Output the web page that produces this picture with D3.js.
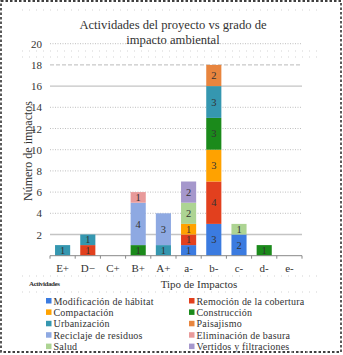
<!DOCTYPE html>
<html><head><meta charset="utf-8">
<script src="https://cdn.jsdelivr.net/npm/d3@7/dist/d3.min.js"></script>
<style>body{margin:0;background:#fff}svg{display:block}</style>
</head><body><svg id="c" width="343" height="355"></svg>
<script>
const categories = ["E+","D−","C+","B+","A+","a-","b-","c-","d-","e-"];
const seriesNames = ["Modificación de hábitat","Remoción de la cobertura","Compactación","Construcción","Urbanización","Paisajismo","Reciclaje de residuos","Eliminación de basura","Salud","Vertidos y filtraciones"];
const modificacion = [0,0,0,0,0,1,3,2,0,0];
const remocion     = [0,1,0,0,0,1,4,0,0,0];
const compactacion = [0,0,0,0,0,1,3,0,0,0];
const construccion = [0,0,0,1,0,0,3,0,1,0];
const urbanizacion = [1,1,0,0,1,0,3,0,0,0];
const paisajismo   = [0,0,0,0,0,0,2,0,0,0];
const reciclaje    = [0,0,0,4,3,0,0,0,0,0];
const eliminacion  = [0,0,0,1,0,0,0,0,0,0];
const salud        = [0,0,0,0,0,2,0,1,0,0];
const vertidos     = [0,0,0,0,0,2,0,0,0,0];
const yTicks = [2,4,6,8,10,12,14,16,18,20];
const colors = ["#3b7be0","#e2401e","#ffa200","#1b8a1b","#3597b0","#e8853e","#8ea9e2","#e89a9a","#add493","#a597cc"];

const FONT = "Liberation Serif";
const allSeries = [modificacion,remocion,compactacion,construccion,urbanizacion,paisajismo,reciclaje,eliminacion,salud,vertidos];
const table = categories.map((c,i)=>{const o={cat:c};seriesNames.forEach((s,j)=>o[s]=allSeries[j][i]);return o;});
const stacked = d3.stack().keys(seriesNames)(table);

const svg = d3.select("#c");
svg.append("rect").attr("x",1).attr("y",1).attr("width",340).attr("height",351)
  .attr("fill","none").attr("stroke","#000").attr("stroke-width",1.3).attr("stroke-dasharray","2.5,2");
const dotted = (x1,y1,x2,y2)=>svg.append("line").attr("x1",x1).attr("y1",y1).attr("x2",x2).attr("y2",y2)
  .attr("stroke","#c8c8c8").attr("stroke-width",0.8).attr("stroke-dasharray","1,6");
dotted(22,10,318,10); dotted(22,51,318,51); dotted(22,57,318,57);
dotted(22,276,318,276); dotted(22,292,318,292); dotted(40,352,318,352);

const x = d3.scaleBand().domain(categories).range([50,302]).paddingInner(0.4).paddingOuter(0.2);
const y = d3.scaleLinear().domain([0,20]).range([255.7,43.7]);

const gridStyle = v => v===2||v===16 ? {c:"#c4c4c4",w:1.4,d:null} : v===18 ? {c:"#bbb",w:1,d:"4,2"} : {c:"#b8b8b8",w:0.9,d:"1,1.5"};
svg.append("g").selectAll("line").data(yTicks).join("line")
  .attr("x1",50).attr("x2",302).attr("y1",d=>y(d)).attr("y2",d=>y(d))
  .attr("stroke",d=>gridStyle(d).c).attr("stroke-width",d=>gridStyle(d).w)
  .attr("stroke-dasharray",d=>gridStyle(d).d);

const ya = svg.append("g").attr("transform","translate(50,0)")
  .call(d3.axisLeft(y).tickValues(yTicks).tickSize(0).tickPadding(8).tickFormat(d3.format("d")));
ya.select(".domain").remove();
ya.attr("font-family",FONT);
ya.selectAll("text").style("font-family",FONT).style("font-size","11px").attr("fill","#333");

const g = svg.append("g");
stacked.forEach((layer,j)=>{
  layer.forEach((d,i)=>{
    const v = d[1]-d[0];
    if(v<=0) return;
    const cat = categories[i];
    g.append("rect").attr("x",x(cat)).attr("width",x.bandwidth())
      .attr("y",y(d[1])).attr("height",y(d[0])-y(d[1])).attr("fill",colors[j]);
    g.append("text").attr("x",x(cat)+x.bandwidth()/2).attr("y",(y(d[0])+y(d[1]))/2+3.6)
      .attr("text-anchor","middle").style("font-family",FONT).style("font-size","10.5px").attr("fill","#333").text(v);
  });
});

const xa = svg.append("g").attr("transform",`translate(0,${y(0)})`)
  .call(d3.axisBottom(x).tickSize(0).tickPadding(9));
xa.attr("font-family",FONT);
xa.select(".domain").attr("stroke","#888").attr("d","M50,0H302");
xa.selectAll("text").style("font-family",FONT).style("font-size","11px").attr("fill","#333");
svg.append("g").selectAll("line").data(d3.range(categories.length+1)).join("line")
  .attr("x1",d=>50+d*252/categories.length).attr("x2",d=>50+d*252/categories.length)
  .attr("y1",y(0)).attr("y2",y(0)+3).attr("stroke","#888");

const title = svg.append("text").attr("text-anchor","middle").style("font-family",FONT).style("font-size","12.6px").attr("fill","#333");
title.append("tspan").attr("x",173).attr("y",29).text("Actividades del proyecto vs grado de");
title.append("tspan").attr("x",173).attr("y",43.5).text("impacto ambiental");

svg.append("text").attr("transform","translate(32,151) rotate(-90)").attr("text-anchor","middle")
  .style("font-family",FONT).style("font-size","12px").attr("fill","#333").text("Número de impactos");
svg.append("text").attr("x",199).attr("y",288).attr("text-anchor","middle")
  .style("font-family",FONT).style("font-size","11px").attr("fill","#333").text("Tipo de Impactos");
svg.append("text").attr("x",29).attr("y",286).style("font-family",FONT).style("font-size","7px").attr("font-weight","bold")
  .attr("letter-spacing","-0.4").attr("fill","#333").text("Actividades");

const lg = svg.append("g");
seriesNames.forEach((s,j)=>{
  const col = j%2, row = Math.floor(j/2);
  const lx = col===0 ? 46 : 189, ly = 301+row*11.4;
  lg.append("rect").attr("x",lx).attr("y",ly-3).attr("width",5.5).attr("height",5.5).attr("fill",colors[j]);
  lg.append("text").attr("x",lx+7.5).attr("y",ly+3.6).style("font-family",FONT).style("font-size","10px").attr("letter-spacing","0.2")
    .attr("fill","#333").text(s);
});
</script></body></html>
